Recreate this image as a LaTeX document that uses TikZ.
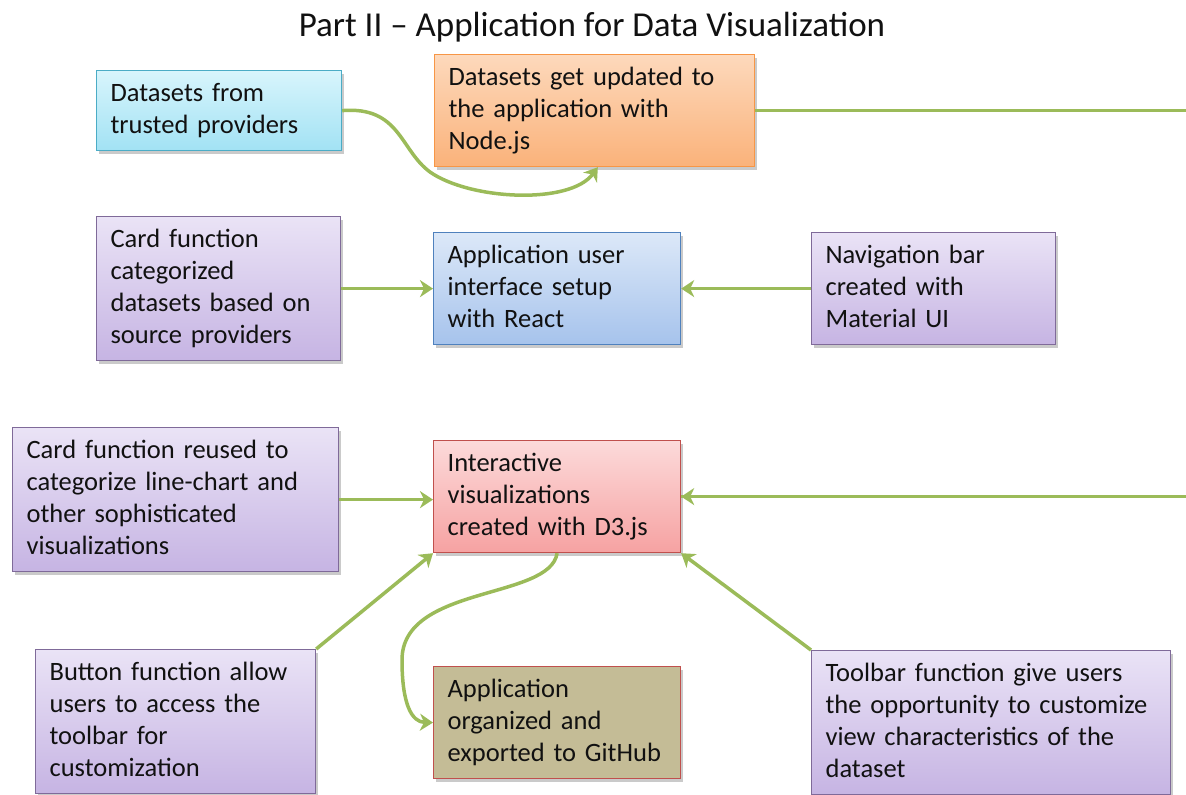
\documentclass[tikz,border=0pt]{standalone}
\usepackage{fontspec}
\setmainfont{Carlito}
\usetikzlibrary{arrows.meta,shadows,calc}
\definecolor{conn}{HTML}{9BBB59}
\definecolor{txt}{HTML}{111111}
\definecolor{cyanB}{HTML}{4BACC6}
\definecolor{cyanT}{HTML}{D8F5FC}
\definecolor{cyanL}{HTML}{A2E2F4}
\definecolor{orangeB}{HTML}{F79646}
\definecolor{orangeT}{HTML}{FDD9BC}
\definecolor{orangeL}{HTML}{FAB27A}
\definecolor{purpleB}{HTML}{7F6A99}
\definecolor{purpleT}{HTML}{EAE3F6}
\definecolor{purpleL}{HTML}{C6B4E3}
\definecolor{blueB}{HTML}{4F81BD}
\definecolor{blueT}{HTML}{DCE8F8}
\definecolor{blueL}{HTML}{A6C3EC}
\definecolor{redB}{HTML}{C0504D}
\definecolor{redT}{HTML}{FCDADA}
\definecolor{redL}{HTML}{F6A2A2}
\definecolor{oliveF}{HTML}{C4BC96}
\newcommand\boxfont{\fontsize{26.5}{32}\selectfont}
\tikzset{
  box/.style={draw, line width=1.2pt, anchor=north west, align=left,
    inner xsep=14pt, inner ysep=8pt, font=\boxfont, text=txt,
    drop shadow={shadow xshift=2pt, shadow yshift=-3pt, opacity=0.35, fill=black!60}},
  cyanbox/.style={box, draw=cyanB, top color=cyanT, bottom color=cyanL},
  orangebox/.style={box, draw=orangeB, top color=orangeT, bottom color=orangeL},
  purplebox/.style={box, draw=purpleB, top color=purpleT, bottom color=purpleL},
  bluebox/.style={box, draw=blueB, top color=blueT, bottom color=blueL},
  redbox/.style={box, draw=redB, top color=redT, bottom color=redL},
  olivebox/.style={box, draw=redB, fill=oliveF},
  conn/.style={draw=conn, line width=3.5pt, -{Stealth[length=13pt,width=17pt,inset=4pt]}},
}
\begin{document}
\begin{tikzpicture}[x=1pt,y=-1pt]
\useasboundingbox (0,0) rectangle (1186,795);
\clip (0,0) rectangle (1186,795);
\node[font=\fontsize{35}{40}\selectfont, text=txt] (title) at (592,27) {Part II -- Application for Data Visualization};

\node[cyanbox, text width=217pt] (src) at (96,70) {\strut Datasets from\\ trusted providers\strut};
\node[orangebox, text width=292pt] (node) at (434,54) {\strut Datasets get updated to\\ the application with\\ Node.js\strut};
\node[purplebox, text width=216pt] (card1) at (96,216) {\strut Card function\\ categorized\\ datasets based on\\ source providers\strut};
\node[bluebox, text width=219pt] (react) at (433,232) {\strut Application user\\ interface setup\\ with React\strut};
\node[purplebox, text width=216pt] (nav) at (811,232) {\strut Navigation bar\\ created with\\ Material UI\strut};
\node[purplebox, text width=298pt] (card2) at (12,427) {\strut Card function reused to\\ categorize line-chart and\\ other sophisticated\\ visualizations\strut};
\node[redbox, text width=219pt] (d3) at (433,440) {\strut Interactive\\ visualizations\\ created with D3.js\strut};
\node[purplebox, text width=252pt] (button) at (35,649) {\strut Button function allow\\ users to access the\\ toolbar for\\ customization\strut};
\node[olivebox, text width=219pt] (git) at (433,666) {\strut Application\\ organized and\\ exported to GitHub\strut};
\node[purplebox, text width=331pt] (toolbar) at (811,650) {\strut Toolbar function give users\\ the opportunity to customize\\ view characteristics of the\\ dataset\strut};

\coordinate (nodein) at ($(node.south west)!0.51!(node.south east)$);
\coordinate (far) at (1230,0);
\coordinate (d3out) at ($(d3.south west)!0.50!(d3.south east)$);

\draw[conn] (src.east) .. controls (400,106) and (400,150) .. (430,172)
  .. controls (470,200) and (570,205) .. (nodein);
\draw[conn, -] (node.east) -- (node.east -| far) |- (d3.east);
\draw[conn] (far |- d3.east) -- (d3.east);
\draw[conn] (card1.east) -- (card1.east -| react.west);
\draw[conn] (nav.west) -- (react.east);
\draw[conn] (card2.east) -- (card2.east -| d3.west);
\draw[conn] (button.north east) -- (d3.south west);
\draw[conn] (toolbar.north west) -- (d3.south east);
\draw[conn] (d3out) .. controls (550,600) and (402,585) .. (402,660)
  .. controls (402,705) and (412,722) .. (git.west);
\end{tikzpicture}
\end{document}
